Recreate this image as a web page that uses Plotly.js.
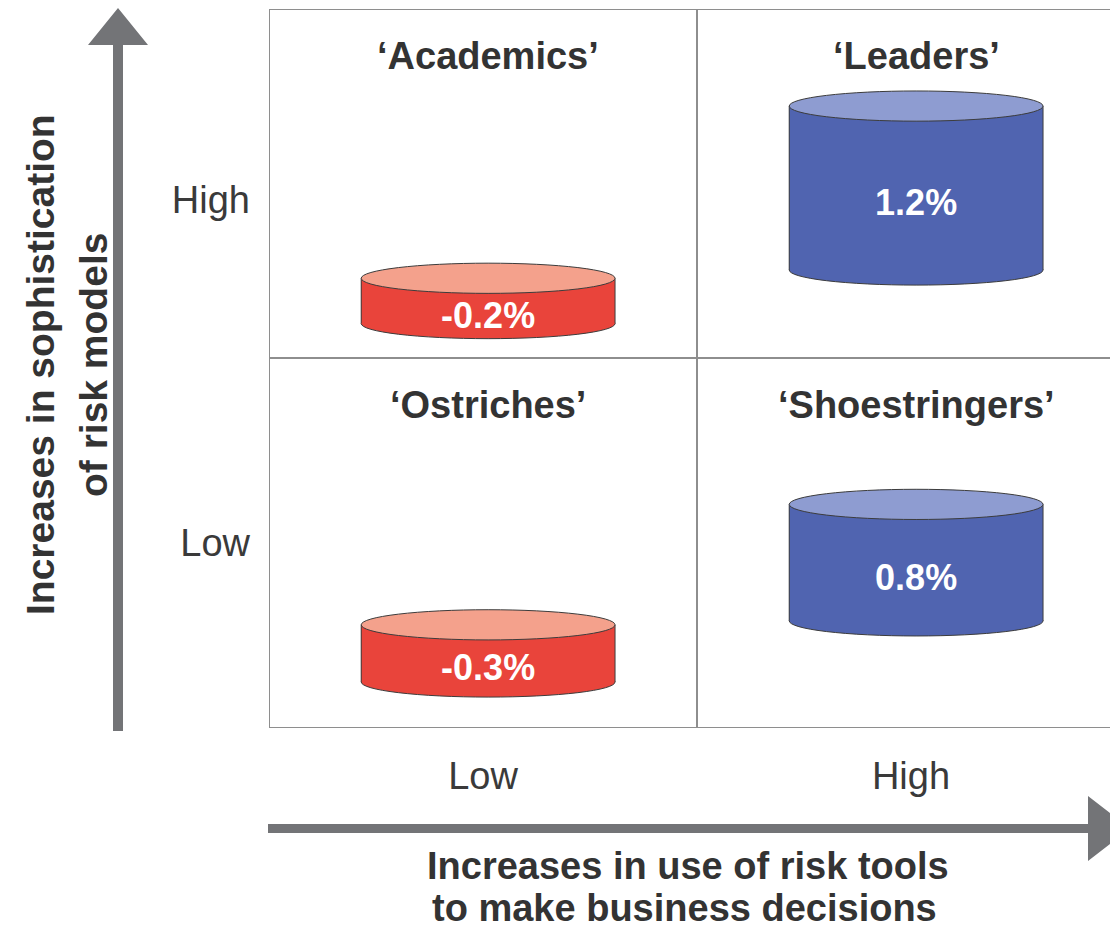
<!DOCTYPE html>
<html>
<head>
<meta charset="utf-8">
<script src="https://cdn.plot.ly/plotly-3.0.1.min.js"></script>
<style>html,body{margin:0;padding:0;background:#fff;}#chart{width:1110px;height:931px;}</style>
</head>
<body>
<div id="chart"></div>
<script>
// ---- data ----
const quadrants   = ['Academics', 'Leaders', 'Ostriches', 'Shoestringers'];
const toolUse     = ['Low', 'High', 'Low', 'High'];   // x: use of risk tools
const modelSoph   = ['High', 'High', 'Low', 'Low'];   // y: sophistication of models
const returnPct   = [-0.2, 1.2, -0.3, 0.8];
const xLevels     = ['Low', 'High'];
const yLevels     = ['Low', 'High'];
const xTitle      = ['Increases in use of risk tools', 'to make business decisions'];
const yTitle      = ['Increases in sophistication', 'of risk models'];

// ---- layout / style config ----
const FONT = 'Liberation Sans, Arial, Helvetica, sans-serif';
const W = 1110, H = 931, ML = 269, MT = 9, MB = 203;
const plotW = W - ML, plotH = H - MT - MB;
const xMax = plotW / 428;            // one cell = 428px
const rowSplit = 1.029;              // horizontal divider (y units)
const rowTop = {High: 2, Low: rowSplit};
const cylBottom = {Academics: 1.125, Leaders: 1.274, Ostriches: 0.128, Shoestringers: 0.298};
const cylWidth = 0.593, ry = 0.042, xOff = 0.012;
const heightOf = v => 0.06 + 0.33 * Math.abs(v);
const bodyCol = v => v < 0 ? '#e9443b' : '#5064b0';
const topCol  = v => v < 0 ? '#f4a18c' : '#8e9cd1';
const edge = '#3c3c3c';
const gridCol = '#8e8e8e';
const arrowCol = '#737477';

const xc = quadrants.map((q, i) => xLevels.indexOf(toolUse[i]) + 0.5 + xOff);
const base = quadrants.map(q => cylBottom[q]);
const hts = returnPct.map(heightOf);

const shapes = [];
// grid lines
const gl = (x0, y0, x1, y1) => shapes.push({type: 'line', xref: 'x', yref: 'y', x0, y0, x1, y1, layer: 'below', line: {color: gridCol, width: 2}});
gl(0, 0, 0, 2); gl(0, 0, xMax, 0); gl(0, 2, xMax, 2); gl(1, 0, 1, 2); gl(0, rowSplit, xMax, rowSplit);

quadrants.forEach((q, i) => {
  const c = xc[i], b = base[i], t = b + hts[i], hw = cylWidth / 2;
  shapes.push({type: 'circle', xref: 'x', yref: 'y', x0: c - hw, x1: c + hw, y0: b - ry, y1: b + ry,
    fillcolor: bodyCol(returnPct[i]), line: {color: edge, width: 1}, layer: 'below'});
  [c - hw, c + hw].forEach(x => shapes.push({type: 'line', xref: 'x', yref: 'y', x0: x, x1: x, y0: b, y1: t,
    line: {color: edge, width: 1}, layer: 'above'}));
  shapes.push({type: 'circle', xref: 'x', yref: 'y', x0: c - hw, x1: c + hw, y0: t - ry, y1: t + ry,
    fillcolor: topCol(returnPct[i]), line: {color: edge, width: 1}, layer: 'above'});
});

// arrows (pixel -> paper)
const PX = p => (p - ML) / plotW, PY = p => (H - MB - p) / plotH;
const path = pts => 'M ' + pts.map(p => PX(p[0]) + ',' + PY(p[1])).join(' L ') + ' Z';
shapes.push({type: 'path', xref: 'paper', yref: 'paper', fillcolor: arrowCol, line: {width: 0},
  path: path([[113, 731], [113, 45], [88, 45], [118, 8], [148, 45], [123, 45], [123, 731]])});
shapes.push({type: 'path', xref: 'paper', yref: 'paper', fillcolor: arrowCol, line: {width: 0},
  path: path([[268, 824], [1088, 824], [1088, 796], [1130, 828.5], [1088, 861], [1088, 833], [268, 833]])});

const annotations = [];
const titleFont = {family: FONT, size: 38, color: '#333', weight: 'bold'};
quadrants.forEach((q, i) => {
  annotations.push({xref: 'x', yref: 'y', x: xc[i], y: rowTop[modelSoph[i]] - 0.13, text: '\u2018' + q + '\u2019',
    xanchor: 'center', yanchor: 'middle', showarrow: false, font: {family: FONT, size: 38, color: '#333', weight: 'bold'}});
});
[[40, yTitle[0]], [93, yTitle[1]]].forEach(([px, t]) => annotations.push({xref: 'paper', yref: 'paper',
  x: PX(px), y: PY(365), text: t, textangle: -90, xanchor: 'center', yanchor: 'middle', showarrow: false,
  borderpad: 0, font: Object.assign({}, titleFont, {size: 39})}));
[[688, 866, xTitle[0]], [684, 908, xTitle[1]]].forEach(([px, py, t]) => annotations.push({xref: 'paper', yref: 'paper',
  x: PX(px), y: PY(py), text: t, xanchor: 'center', yanchor: 'middle', showarrow: false, borderpad: 0, font: titleFont}));

const traces = [
  {type: 'bar', x: xc, y: hts, base: base, width: cylWidth,
   marker: {color: returnPct.map(bodyCol), line: {width: 0}}, hoverinfo: 'skip', showlegend: false},
  {type: 'scatter', mode: 'text', x: xc, y: base.map((b, i) => b + hts[i] / 2 - 0.05),
   text: returnPct.map(v => v.toFixed(1) + '%'), textposition: 'middle center',
   textfont: {family: FONT, size: 36, color: '#ffffff', weight: 'bold'}, hoverinfo: 'skip', showlegend: false}
];

const layout = {
  width: W, height: H, margin: {l: ML, r: 0, t: MT, b: MB, pad: 0},
  paper_bgcolor: '#fff', plot_bgcolor: '#fff', showlegend: false, bargap: 0,
  xaxis: {range: [0, xMax], showgrid: false, zeroline: false, showline: false, ticks: '',
    tickvals: [0.5, 1.5], ticktext: xLevels, ticklabelstandoff: 22,
    tickfont: {family: FONT, size: 38, color: '#3a3a3a'}, fixedrange: true},
  yaxis: {range: [0, 2], showgrid: false, zeroline: false, showline: false, ticks: '',
    tickvals: [0.515, 1.47], ticktext: yLevels, ticklabelstandoff: 18,
    tickfont: {family: FONT, size: 38, color: '#3a3a3a'}, fixedrange: true},
  shapes, annotations
};
Plotly.newPlot('chart', traces, layout, {displayModeBar: false, staticPlot: true});
</script>
</body>
</html>
